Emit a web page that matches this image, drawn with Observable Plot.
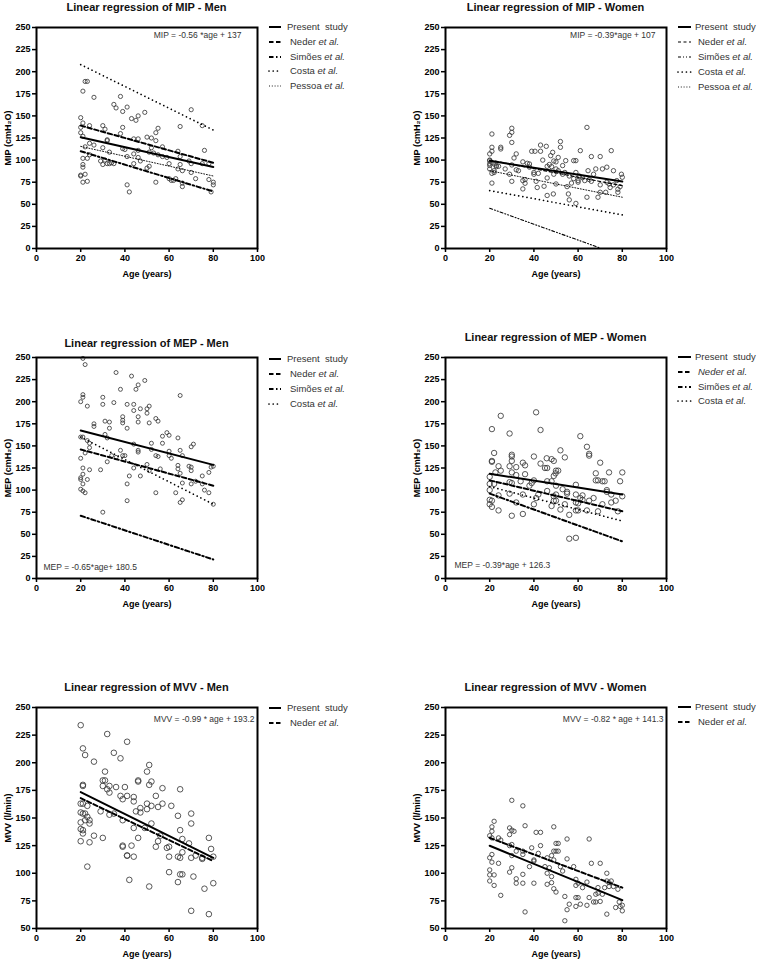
<!DOCTYPE html>
<html><head><meta charset="utf-8">
<script src="https://cdn.jsdelivr.net/npm/d3@7"></script>
<script src="https://cdn.jsdelivr.net/npm/@observablehq/plot@0.6"></script>
<style>
html,body{margin:0;padding:0;background:#fff;}
#root{position:relative;width:758px;height:959px;overflow:hidden;font-family:"Liberation Sans",Arial,sans-serif;}
.plot{position:absolute;}
.title{position:absolute;font-weight:bold;font-size:11px;line-height:14px;white-space:nowrap;transform:translateX(-50%);color:#111;}
.leg{position:absolute;font-size:9.5px;line-height:12px;color:#333;white-space:pre;}
.sw{position:absolute;}
</style></head><body><div id="root"></div>
<script>
// ---------- tick labels ----------
const xTicks = [0, 20, 40, 60, 80, 100];
const pressureTicks = [0, 25, 50, 75, 100, 125, 150, 175, 200, 225, 250];
const mvvTicks = [50, 75, 100, 125, 150, 175, 200, 225, 250];

// ---------- texts ----------
const titles = ["Linear regression of MIP - Men", "Linear regression of MIP - Women",
  "Linear regression of MEP - Men", "Linear regression of MEP - Women",
  "Linear regression of MVV - Men", "Linear regression of MVV - Women"];
const yLabels = ["MIP (cmH₂O)", "MIP (cmH₂O)", "MEP (cmH₂O)", "MEP (cmH₂O)", "MVV (l/min)", "MVV (l/min)"];
const xLabel = "Age (years)";
const equations = ["MIP = -0.56 *age + 137", "MIP = -0.39*age + 107", "MEP = -0.65*age+ 180.5",
  "MEP = -0.39*age + 126.3", "MVV = -0.99 * age + 193.2", "MVV = -0.82 * age + 141.3"];
const series5 = ["Present  study", "Neder", "Simões", "Costa", "Pessoa"];
const series4 = ["Present  study", "Neder", "Simões", "Costa"];
const series2 = ["Present  study", "Neder"];

// ---------- scatter data [age, value] ----------
const mipMen = [[20,148],[20,137],[20,131],[20,83],[20,82],[21,178],[22,189],[23,189],[21,142],[21,127],[21,102],[21,95],[21,92],[21,75],[22,115],[22,84],[23,102],[23,76],[24,139],[24,119],[24,106],[26,171],[26,117],[29,99],[30,139],[30,114],[30,95],[31,135],[32,122],[32,96],[32,123],[33,109],[33,96],[35,96],[35,163],[36,159],[38,172],[39,155],[38,130],[39,137],[39,113],[40,112],[41,160],[41,104],[41,72],[42,64],[43,147],[44,124],[44,107],[44,96],[45,145],[46,150],[46,124],[46,103],[46,111],[47,99],[49,154],[50,126],[51,109],[51,93],[50,91],[52,125],[53,108],[54,131],[54,75],[55,136],[54,122],[55,106],[57,115],[59,103],[60,96],[60,79],[61,77],[63,79],[64,110],[65,138],[65,95],[64,90],[66,74],[66,70],[66,88],[65,104],[69,99],[70,157],[70,96],[70,86],[72,79],[75,139],[75,96],[76,111],[78,78],[78,96],[79,64],[80,72],[80,75],[57,104],[31,100],[34,97],[52,114],[62,77]];
const mipWomen = [[21,129.5],[20,107],[21,114.5],[21,110],[20,100],[20,94],[20,90],[21,85],[21,74],[22,95.6],[22,88],[23,94],[23,92.6],[25,114.5],[25,112.6],[29,128],[30,131.4],[30,136],[30,120],[30,76],[29,84],[30,94.5],[32,107],[31,102.4],[32,89],[35,98],[35,76.8],[35,67.4],[36,73.8],[37,96.4],[38,95.6],[39,110],[40.5,110],[40,84],[40,86],[41,76],[43,117],[43,110],[41.5,69],[44.6,70.4],[45.6,115.6],[46,93],[46,79.8],[46,60],[47.6,105],[48,92.6],[48.5,108.8],[48.8,61.7],[49,84],[50,73],[50,90],[51,103],[51,88],[52,121],[52,114.5],[53,93.8],[53,84],[54.4,99.4],[55,70],[55.6,61.7],[56,55],[58,99.4],[59,99.4],[59,86],[59,51],[60,76.8],[61,110.7],[60.5,82],[63,76.8],[64,58],[64,137],[64.5,88],[66,104],[67,84],[68,90],[69,58],[70,104],[70,63.6],[71,90],[72.5,63.6],[73,92],[73,75],[75,110.7],[74.5,69],[76,88],[77.5,76.8],[78,67],[78,63.6],[79.6,84],[80,80.6],[20,99.5],[20,96],[21,97],[22,86],[24,93],[27,90],[33,88],[36,78],[44,100],[47,95],[49,99],[54,86],[56,82],[57,74],[62,80],[65,78],[66,76],[70,72],[74,73],[76,72],[79,70],[38,92],[42,85],[50,98],[58,79],[60,75]];
const mepMen = [[21,249],[22,242],[20,200],[21,208],[21,205],[23,195],[20,160],[21,160],[20,136],[21,125],[20,114],[20,112],[21,118],[21,107],[20,101],[21,99],[22,97],[22,142],[23,156],[24,153],[24,148],[24,123],[23,112],[26,175],[26,172],[29,123],[30,205],[30,197],[30,75],[31,178],[31,163],[32,159],[32,132],[33,177],[33,170],[34,139],[35,199],[36,233],[36,137],[38,214],[38,145],[39,183],[39,179],[39,176],[39,139],[40,139],[41,197],[41,170],[41,107],[41,88],[42,116],[43,229],[44,197],[44,190],[44,152],[44,125],[45,214],[46,219],[46,183],[46,177],[46,145],[46,143],[47,192],[47,116],[49,224],[50,192],[50,187],[51,195],[51,176],[51,122],[50,129],[52,153],[52,146],[54,181],[55,178],[54,97],[54,139],[55,138],[56,124],[57,161],[57,153],[59,165],[60,162],[60,144],[60,139],[61,136],[63,97],[64,159],[64,128],[64,124],[65,207],[65,145],[65,119],[65,86],[66,89],[66,139],[66,108],[69,127],[70,149],[70,126],[70,122],[70,107],[71,152],[72,110],[75,116],[75,107],[76,100],[78,97],[78,120],[79,126],[80,127],[80,84]];
const mepWomen = [[21,169],[25,184],[29,164],[41,188],[43,168],[22,142],[21,132],[21,133],[24,127],[25,122],[20,115],[20,107],[20,100],[20,89],[20,84],[21,88],[21,81],[22,107],[22.6,120],[24,94],[24,77],[29,127],[29,109],[29,96],[30,140],[30,138],[30,133],[30,120],[30,108],[30,71],[32,126],[32,117],[32,86],[34,110],[35,131],[36,128],[36,118],[35,95],[35,73],[38,105],[39,108],[40,138],[40,111],[40,84],[41,91],[42,95],[43,130],[45,125],[46,125],[46,110],[46,99],[45.8,136],[48,135],[49,133],[48,110],[48,82],[49,116],[49.8,119],[49,93],[49,88],[50,122],[51,122],[50,105],[50,95],[50,88],[52,145],[52,78],[53,101],[54,137],[54,84],[55,98],[55,96],[56,72],[56,45],[59,106],[59,95],[59,86],[59,77],[59,46],[60,77],[60,85],[61,91],[61,161],[62,94],[62,89],[64,149],[64,77],[65,139],[65,141],[65,88],[67,91],[68,119],[68,111],[69,111],[69,76],[70,131],[71,110],[71,84],[72,110],[73,100],[73,98],[74,120],[75,95],[75,86],[77,88],[78,76],[79,110],[80,120],[80,93]];
const mvvMen = [[20,234],[21,213],[22,207],[26,201],[32,226],[35,209],[38,204],[41,219],[31,192],[30,184],[31,184],[30,179],[33,179],[32,176],[33,173],[36,178],[40,178],[38,170],[39,167],[41,170],[44,169],[44,165],[46,184],[46,183],[50,192],[51,198],[52,183],[51,180],[50,163],[50,158],[52,161],[54,170],[55,160],[57,163],[57,177],[61,161],[65,176],[47,159],[47,155],[45,156],[20,163],[20,155],[20,146],[20,140],[20,129],[21,180],[21,179],[21,163],[21,154],[21,139],[21,136],[22,154],[22,148],[23,161],[23,151],[24,148],[24,145],[24,128],[23,106],[26,134],[29,156],[30,132],[33,153],[35,154],[39,148],[39,125],[39,124],[41,116],[41,116],[42,94],[43,125],[44,141],[44,115],[46,132],[49,141],[52,145],[51,88],[54,124],[55,129],[56,134],[59,123],[60,124],[60,115],[60,101],[64,152],[64,115],[64,92],[65,139],[65,114],[65,99],[66,99],[66,131],[66,119],[69,127],[70,154],[70,145],[70,114],[70,66],[71,97],[72,116],[75,113],[75,114],[76,86],[78,132],[78,63],[79,122],[80,115],[80,91]];
const mvvWomen = [[20,134],[20,114],[20,103],[20,98.5],[20,93],[21,142],[21,138],[21,117],[21,110],[22,147],[22,98.5],[22,89],[21,132],[24,132],[25,130],[24,109],[25,80],[29,141],[30,139],[31,138],[29,135],[29,125],[30,126],[30,116],[29,101],[30,105],[30,166],[32,120],[32,95],[32,91],[35,161],[36,143],[35,120],[35,117],[35,99],[35,91],[36,65],[38,106],[39,123],[40,112],[40,111],[40,91],[41,137],[42,118],[43,137],[43,125],[45,106],[46,114],[46,100],[46,90],[47,105],[48,116],[48,97],[48,91.5],[49,142],[49,120],[49,112],[49,86],[50,127],[50,120],[50,83],[51,127],[51,120],[52,106],[53,102],[54,79],[54,57],[55,113],[55,131],[55,67],[56,72],[58,106],[59,94.5],[59,89],[59,78],[59,70],[60,91],[60,78],[61,72],[62,87],[64,92],[64,71],[65,78],[65,131],[66,109],[67,74],[68,81],[68,74],[69,87],[69,82],[70,109],[70,74.5],[71,81],[72,87],[73,100],[73,93],[73,63],[74,88],[74,91.5],[75,93],[76,88],[77,69],[78,85.5],[78.6,74],[79,70],[80,71],[80,66]];

// ---------- regression lines [age1, value1, age2, value2] ----------
const mipMenFits = [[20,125.8,80,92.2],[20,139,80,97],[20,110,80,64.5],[20,208,80,134],[20,115.5,80,82]];
const mipWomenFits = [[20,99.2,80,75.8],[20,100,80,71],[20,45.5,70,0.5],[20,65.5,80,38],[20,88,80,58]];
const mepMenFits = [[20,167.5,80,128.5],[20,146,80,105],[20,71,80,21.5],[20,160,80,84]];
const mepWomenFits = [[20,118.5,80,95.1],[20,111,80,76],[20,96,80,42],[20,104,80,65]];
const mvvMenFits = [[20,173.4,80,114],[20,168,80,111]];
const mvvWomenFits = [[20,124.9,80,75.7],[20,132,80,87]];

// ---------- styles ----------
const STYLES = {
  solid: {strokeWidth: 2},
  dashThick: {strokeWidth: 2, strokeDasharray: "4.5,2.5"},
  dashDotThick: {strokeWidth: 2, strokeDasharray: "4.5,2.5,1.5,2.5"},
  dotThick: {strokeWidth: 1.7, strokeDasharray: "0.01,4.2", strokeLinecap: "round"},
  dotFine: {strokeWidth: 0.9, strokeDasharray: "1,1.8"},
  dashThin: {strokeWidth: 1.2, strokeDasharray: "3,2.5"},
  dashDotDotThin: {strokeWidth: 1.1, strokeDasharray: "3,2,1,2,1,2"}
};
const mipMenStyles = ["solid","dashThick","dashDotThick","dotThick","dotFine"];
const mipWomenStyles = ["solid","dashThin","dashDotDotThin","dotThick","dotFine"];
const mepStyles = ["solid","dashThick","dashDotThick","dotThick"];
const mvvStyles = ["solid","dashThick"];

const panels = [
  {points: mipMen, fits: mipMenFits, styles: mipMenStyles, names: series5, yTicks: pressureTicks, yDomain: [0,250], r: 2.1},
  {points: mipWomen, fits: mipWomenFits, styles: mipWomenStyles, names: series5, yTicks: pressureTicks, yDomain: [0,250], r: 2.2},
  {points: mepMen, fits: mepMenFits, styles: mepStyles, names: series4, yTicks: pressureTicks, yDomain: [0,250], r: 2.0},
  {points: mepWomen, fits: mepWomenFits, styles: mepStyles, names: series4, yTicks: pressureTicks, yDomain: [0,250], r: 2.7, italicNeder: true},
  {points: mvvMen, fits: mvvMenFits, styles: mvvStyles, names: series2, yTicks: mvvTicks, yDomain: [50,250], r: 2.8},
  {points: mvvWomen, fits: mvvWomenFits, styles: mvvStyles, names: series2, yTicks: mvvTicks, yDomain: [50,250], r: 2.2}
];

// ---------- layout ----------
const layout = [
  {col:0, frameTop:27, titleY:7, legendTop:26.7, eq:{anchor:"top-right", dx:-16, dy:8}},
  {col:1, frameTop:27, titleY:7, legendTop:27.3, eq:{anchor:"top-right", dx:-11, dy:8}},
  {col:0, frameTop:357, titleY:343, legendTop:359, eq:{anchor:"bottom-left", dx:7, dy:-11}},
  {col:1, frameTop:357, titleY:337, legendTop:356.7, eq:{anchor:"bottom-left", dx:9, dy:-13}},
  {col:0, frameTop:707, titleY:687, legendTop:708, eq:{anchor:"top-right", dx:-3, dy:12}},
  {col:1, frameTop:707, titleY:687, legendTop:707.3, eq:{anchor:"top-right", dx:-3, dy:12}}
];
const COL = [
  {svgLeft:0, mL:36, swX:268, swW:12, textX:287, textX2:290},
  {svgLeft:380, mL:65, swX:677, swW:13, textX:695, textX2:698}
];
const W = 221, H = 221, mT = 27, mR = 6, mB = 34;

const root = document.getElementById("root");

panels.forEach((P, i) => {
  const L = layout[i], C = COL[L.col];
  const marks = [
    Plot.dot(P.points, {x: d => d[0], y: d => d[1], r: P.r, stroke: "#3a3a3a", strokeWidth: 0.85, fill: "none"}),
    ...P.fits.map((f, k) => Plot.line([[f[0], f[1]], [f[2], f[3]]], {x: d => d[0], y: d => d[1], stroke: "#000", ...STYLES[P.styles[k]]})),
    Plot.text([equations[i]], {text: d => d, frameAnchor: L.eq.anchor, textAnchor: L.eq.anchor.endsWith("right") ? "end" : "start",
      lineAnchor: "middle", dx: L.eq.dx, dy: L.eq.dy, fontSize: 8.5, fontWeight: "normal", fill: "#333"}),
    Plot.axisX({ticks: xTicks, tickSize: 4, tickPadding: 2, strokeWidth: 1.5, fontSize: 9, label: xLabel,
      labelAnchor: "center", labelOffset: 28, labelArrow: "none"}),
    Plot.axisY({ticks: P.yTicks, tickSize: 4, tickPadding: 2, strokeWidth: 1.5, fontSize: 9, label: yLabels[i],
      labelAnchor: "center", labelOffset: 32, labelArrow: "none"}),
    Plot.frame({stroke: "#000", strokeWidth: 2})
  ];
  const svg = Plot.plot({
    width: C.mL + W + mR, height: mT + H + mB,
    marginLeft: C.mL, marginTop: mT, marginRight: mR, marginBottom: mB,
    x: {domain: [0, 100]},
    y: {domain: P.yDomain},
    style: {fontFamily: "'Liberation Sans', Arial, sans-serif", fontWeight: "bold", color: "#000", background: "transparent", overflow: "visible"},
    marks
  });
  svg.classList.add("plot");
  svg.style.position = "absolute";
  svg.style.left = C.svgLeft + "px";
  svg.style.top = (L.frameTop - mT) + "px";
  root.appendChild(svg);

  // title
  const t = document.createElement("div");
  t.className = "title";
  t.textContent = titles[i];
  t.style.left = (C.svgLeft + C.mL + W / 2) + "px";
  t.style.top = (L.titleY - 7) + "px";
  root.appendChild(t);

  // legend
  P.names.forEach((name, k) => {
    const cy = L.legendTop + k * 14.9;
    const st = STYLES[P.styles[k]];
    const sw = d3.create("svg").attr("class", "sw").attr("width", C.swW + 2).attr("height", 6)
      .style("left", C.swX + "px").style("top", (cy - 3) + "px");
    sw.append("line").attr("x1", 1).attr("x2", C.swW + 1).attr("y1", 3).attr("y2", 3)
      .attr("stroke", "#000").attr("stroke-width", st.strokeWidth)
      .attr("stroke-linecap", st.strokeLinecap || null)
      .attr("stroke-dasharray", st.strokeDasharray || null);
    root.appendChild(sw.node());
    const lab = document.createElement("div");
    lab.className = "leg";
    lab.style.left = (k === 0 ? C.textX : C.textX2) + "px";
    lab.style.top = (cy - 6) + "px";
    if (k === 0) {
      lab.textContent = name;
    } else if (P.italicNeder && name === "Neder") {
      lab.innerHTML = "<i>Neder et al.</i>";
    } else {
      lab.innerHTML = name + " <i>et al.</i>";
    }
    root.appendChild(lab);
  });
});
</script></body></html>
